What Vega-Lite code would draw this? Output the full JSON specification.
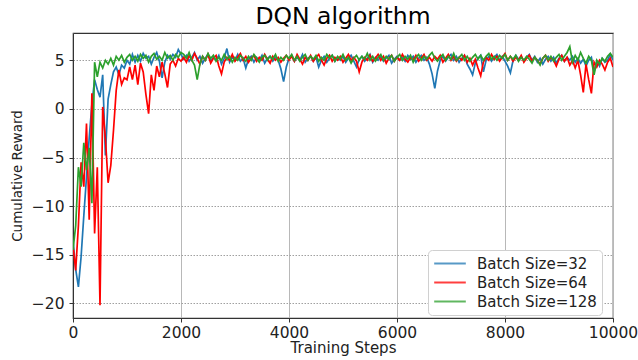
{
"$schema": "https://vega.github.io/schema/vega-lite/v6.json",
"width": 540, "height": 285,
"autosize": {"type": "none"},
"padding": {"left": 73, "top": 33, "right": 25, "bottom": 42},
"background": "white",
"title": {"text": "DQN algorithm", "font": "DejaVu Sans", "fontSize": 23.5, "fontWeight": "normal", "color": "#000", "offset": 5},
"config": {
  "view": {"stroke": "#333", "strokeWidth": 1.2},
  "font": "DejaVu Sans",
  "axis": {"labelFont": "DejaVu Sans", "titleFont": "DejaVu Sans", "labelFontSize": 15.5, "titleFontSize": 15, "titleFontWeight": "normal", "labelColor": "#222", "titleColor": "#222", "domainColor": "#333", "tickColor": "#333", "tickSize": 4}
},
"datasets": {
"b32": [
{"x":0,"y":-13.5},{"x":50,"y":-16.5},{"x":100,"y":-18.3},{"x":150,"y":-15.2},{"x":200,"y":-11},{"x":250,"y":-7},{"x":300,"y":-3},{"x":350,"y":0.5},{"x":400,"y":3},{"x":450,"y":2},{"x":500,"y":1.2},{"x":550,"y":3.5},{"x":600,"y":-4.8},{"x":650,"y":1},{"x":700,"y":2.5},{"x":750,"y":3.8},{"x":800,"y":4.3},{"x":850,"y":3.5},{"x":900,"y":4.5},{"x":950,"y":4.2},
{"x":1000,"y":5},{"x":1050,"y":4.6},{"x":1100,"y":5.6},{"x":1150,"y":4.8},{"x":1200,"y":5.5},{"x":1250,"y":4.9},{"x":1300,"y":5.7},{"x":1350,"y":5.2},{"x":1400,"y":5.4},{"x":1450,"y":4.6},{"x":1500,"y":5.3},{"x":1550,"y":5.8},{"x":1600,"y":4.9},{"x":1650,"y":3.2},{"x":1700,"y":4.8},{"x":1750,"y":5.5},{"x":1800,"y":5.1},{"x":1850,"y":5.6},{"x":1900,"y":5.3},{"x":1950,"y":6.1},
{"x":2000,"y":5.6},{"x":2050,"y":5.1},{"x":2100,"y":5.5},{"x":2150,"y":4.9},{"x":2200,"y":5.3},{"x":2250,"y":5.8},{"x":2300,"y":5.0},{"x":2350,"y":5.4},{"x":2400,"y":4.7},{"x":2450,"y":5.2},{"x":2500,"y":5.6},{"x":2550,"y":4.9},{"x":2600,"y":5.3},{"x":2650,"y":5.0},{"x":2700,"y":5.5},{"x":2750,"y":4.6},{"x":2800,"y":5.2},{"x":2850,"y":6.2},{"x":2900,"y":4.8},{"x":2950,"y":5.3},
{"x":3000,"y":5.0},{"x":3050,"y":5.6},{"x":3100,"y":4.9},{"x":3150,"y":5.2},{"x":3200,"y":4.2},{"x":3250,"y":5.1},{"x":3300,"y":5.4},{"x":3350,"y":4.8},{"x":3400,"y":5.3},{"x":3450,"y":5.0},{"x":3500,"y":5.5},{"x":3550,"y":4.7},{"x":3600,"y":5.2},{"x":3650,"y":5.4},{"x":3700,"y":4.9},{"x":3750,"y":5.3},{"x":3800,"y":5.0},{"x":3850,"y":4.1},{"x":3900,"y":2.8},{"x":3950,"y":4.3},
{"x":4000,"y":5.2},{"x":4050,"y":5.5},{"x":4100,"y":4.9},{"x":4150,"y":5.3},{"x":4200,"y":5.0},{"x":4250,"y":5.6},{"x":4300,"y":4.8},{"x":4350,"y":5.2},{"x":4400,"y":5.4},{"x":4450,"y":4.9},{"x":4500,"y":5.3},{"x":4550,"y":4.3},{"x":4600,"y":5.0},{"x":4650,"y":5.4},{"x":4700,"y":4.8},{"x":4750,"y":5.2},{"x":4800,"y":5.5},{"x":4850,"y":4.9},{"x":4900,"y":5.3},{"x":4950,"y":5.0},
{"x":5000,"y":5.4},{"x":5050,"y":4.8},{"x":5100,"y":5.2},{"x":5150,"y":5.5},{"x":5200,"y":4.9},{"x":5250,"y":4.3},{"x":5300,"y":5.1},{"x":5350,"y":5.4},{"x":5400,"y":4.9},{"x":5450,"y":5.2},{"x":5500,"y":5.6},{"x":5550,"y":4.8},{"x":5600,"y":5.3},{"x":5650,"y":5.0},{"x":5700,"y":5.4},{"x":5750,"y":4.9},{"x":5800,"y":5.2},{"x":5850,"y":5.5},{"x":5900,"y":4.7},{"x":5950,"y":5.1},
{"x":6000,"y":5.4},{"x":6050,"y":5.0},{"x":6100,"y":5.3},{"x":6150,"y":4.9},{"x":6200,"y":5.5},{"x":6250,"y":5.1},{"x":6300,"y":5.4},{"x":6350,"y":4.8},{"x":6400,"y":5.2},{"x":6450,"y":5.5},{"x":6500,"y":5.0},{"x":6550,"y":5.3},{"x":6600,"y":4.6},{"x":6650,"y":3.6},{"x":6700,"y":2.1},{"x":6750,"y":3.9},{"x":6800,"y":5.0},{"x":6850,"y":5.4},{"x":6900,"y":4.9},{"x":6950,"y":5.3},
{"x":7000,"y":5.6},{"x":7050,"y":5.0},{"x":7100,"y":5.4},{"x":7150,"y":4.8},{"x":7200,"y":5.2},{"x":7250,"y":5.5},{"x":7300,"y":4.6},{"x":7350,"y":4.1},{"x":7400,"y":3.5},{"x":7450,"y":4.7},{"x":7500,"y":5.2},{"x":7550,"y":5.5},{"x":7600,"y":3.8},{"x":7650,"y":5.0},{"x":7700,"y":5.4},{"x":7750,"y":4.9},{"x":7800,"y":5.3},{"x":7850,"y":5.6},{"x":7900,"y":5.0},{"x":7950,"y":5.4},
{"x":8000,"y":4.9},{"x":8050,"y":4.4},{"x":8100,"y":3.7},{"x":8150,"y":5.0},{"x":8200,"y":5.5},{"x":8250,"y":5.1},{"x":8300,"y":5.4},{"x":8350,"y":4.9},{"x":8400,"y":5.3},{"x":8450,"y":5.6},{"x":8500,"y":5.0},{"x":8550,"y":5.4},{"x":8600,"y":4.8},{"x":8650,"y":5.2},{"x":8700,"y":4.6},{"x":8750,"y":5.1},{"x":8800,"y":5.4},{"x":8850,"y":4.9},{"x":8900,"y":5.3},{"x":8950,"y":4.7},
{"x":9000,"y":5.2},{"x":9050,"y":5.5},{"x":9100,"y":4.9},{"x":9150,"y":5.3},{"x":9200,"y":5.0},{"x":9250,"y":5.4},{"x":9300,"y":4.8},{"x":9350,"y":5.2},{"x":9400,"y":4.7},{"x":9450,"y":5.1},{"x":9500,"y":4.4},{"x":9550,"y":5.0},{"x":9600,"y":5.3},{"x":9650,"y":3.8},{"x":9700,"y":4.9},{"x":9750,"y":4.4},{"x":9800,"y":5.2},{"x":9850,"y":4.8},{"x":9900,"y":5.0},{"x":9950,"y":5.6},{"x":10000,"y":5.0}
],
"b64": [
{"x":0,"y":-14},{"x":50,"y":-16.6},{"x":100,"y":-12},{"x":150,"y":-5.5},{"x":200,"y":-8},{"x":250,"y":-1.5},{"x":300,"y":-11.4},{"x":350,"y":1.6},{"x":400,"y":-12.8},{"x":450,"y":-6},{"x":500,"y":-20.2},{"x":550,"y":0.2},{"x":600,"y":-3},{"x":650,"y":-7.6},{"x":700,"y":-5.8},{"x":750,"y":-2.2},{"x":800,"y":1.9},{"x":850,"y":4},{"x":900,"y":2.5},{"x":950,"y":3.2},
{"x":1000,"y":3},{"x":1050,"y":4.3},{"x":1100,"y":3.0},{"x":1150,"y":4.5},{"x":1200,"y":2.5},{"x":1250,"y":4.7},{"x":1300,"y":3.8},{"x":1350,"y":1.5},{"x":1400,"y":-0.5},{"x":1450,"y":3.5},{"x":1500,"y":1.9},{"x":1550,"y":4.4},{"x":1600,"y":3.3},{"x":1650,"y":4.8},{"x":1700,"y":3.6},{"x":1750,"y":2.2},{"x":1800,"y":4.6},{"x":1850,"y":5.0},{"x":1900,"y":4.4},{"x":1950,"y":5.2},
{"x":2000,"y":4.9},{"x":2050,"y":5.3},{"x":2100,"y":4.8},{"x":2150,"y":5.5},{"x":2200,"y":5.0},{"x":2250,"y":5.7},{"x":2300,"y":5.2},{"x":2350,"y":4.6},{"x":2400,"y":5.4},{"x":2450,"y":5.0},{"x":2500,"y":5.6},{"x":2550,"y":4.7},{"x":2600,"y":5.2},{"x":2650,"y":5.5},{"x":2700,"y":4.4},{"x":2750,"y":3.6},{"x":2800,"y":4.8},{"x":2850,"y":5.3},{"x":2900,"y":5.0},{"x":2950,"y":5.6},
{"x":3000,"y":4.9},{"x":3050,"y":5.3},{"x":3100,"y":5.7},{"x":3150,"y":5.0},{"x":3200,"y":5.4},{"x":3250,"y":4.8},{"x":3300,"y":5.2},{"x":3350,"y":5.5},{"x":3400,"y":4.9},{"x":3450,"y":5.3},{"x":3500,"y":5.0},{"x":3550,"y":5.6},{"x":3600,"y":5.1},{"x":3650,"y":4.7},{"x":3700,"y":5.4},{"x":3750,"y":5.0},{"x":3800,"y":5.3},{"x":3850,"y":4.8},{"x":3900,"y":5.2},{"x":3950,"y":5.5},
{"x":4000,"y":5.0},{"x":4050,"y":5.4},{"x":4100,"y":4.9},{"x":4150,"y":5.6},{"x":4200,"y":5.1},{"x":4250,"y":4.6},{"x":4300,"y":5.3},{"x":4350,"y":5.0},{"x":4400,"y":5.5},{"x":4450,"y":4.9},{"x":4500,"y":5.3},{"x":4550,"y":5.6},{"x":4600,"y":5.0},{"x":4650,"y":4.5},{"x":4700,"y":5.2},{"x":4750,"y":5.5},{"x":4800,"y":4.9},{"x":4850,"y":5.3},{"x":4900,"y":5.0},{"x":4950,"y":5.4},
{"x":5000,"y":4.8},{"x":5050,"y":5.2},{"x":5100,"y":5.6},{"x":5150,"y":5.0},{"x":5200,"y":5.3},{"x":5250,"y":4.9},{"x":5300,"y":3.8},{"x":5350,"y":4.8},{"x":5400,"y":5.3},{"x":5450,"y":5.0},{"x":5500,"y":5.5},{"x":5550,"y":4.9},{"x":5600,"y":5.2},{"x":5650,"y":5.6},{"x":5700,"y":5.0},{"x":5750,"y":5.4},{"x":5800,"y":4.7},{"x":5850,"y":5.2},{"x":5900,"y":5.5},{"x":5950,"y":4.9},
{"x":6000,"y":5.3},{"x":6050,"y":5.0},{"x":6100,"y":5.6},{"x":6150,"y":5.1},{"x":6200,"y":4.8},{"x":6250,"y":5.3},{"x":6300,"y":5.0},{"x":6350,"y":5.5},{"x":6400,"y":4.9},{"x":6450,"y":5.2},{"x":6500,"y":5.6},{"x":6550,"y":5.0},{"x":6600,"y":5.3},{"x":6650,"y":4.9},{"x":6700,"y":5.4},{"x":6750,"y":5.1},{"x":6800,"y":5.5},{"x":6850,"y":4.8},{"x":6900,"y":5.2},{"x":6950,"y":5.6},
{"x":7000,"y":5.0},{"x":7050,"y":5.4},{"x":7100,"y":4.9},{"x":7150,"y":5.3},{"x":7200,"y":5.0},{"x":7250,"y":5.5},{"x":7300,"y":4.8},{"x":7350,"y":5.2},{"x":7400,"y":4.5},{"x":7450,"y":5.1},{"x":7500,"y":4.2},{"x":7550,"y":3.4},{"x":7600,"y":4.8},{"x":7650,"y":5.3},{"x":7700,"y":5.0},{"x":7750,"y":5.6},{"x":7800,"y":5.1},{"x":7850,"y":5.4},{"x":7900,"y":4.9},{"x":7950,"y":5.3},
{"x":8000,"y":5.7},{"x":8050,"y":5.0},{"x":8100,"y":5.4},{"x":8150,"y":4.9},{"x":8200,"y":5.3},{"x":8250,"y":5.0},{"x":8300,"y":5.5},{"x":8350,"y":4.8},{"x":8400,"y":5.2},{"x":8450,"y":5.5},{"x":8500,"y":4.9},{"x":8550,"y":5.3},{"x":8600,"y":5.0},{"x":8650,"y":4.6},{"x":8700,"y":5.2},{"x":8750,"y":5.5},{"x":8800,"y":4.9},{"x":8850,"y":5.3},{"x":8900,"y":5.0},{"x":8950,"y":4.4},
{"x":9000,"y":5.1},{"x":9050,"y":5.5},{"x":9100,"y":4.9},{"x":9150,"y":5.3},{"x":9200,"y":4.5},{"x":9250,"y":5.0},{"x":9300,"y":4.2},{"x":9350,"y":5.0},{"x":9400,"y":3.5},{"x":9450,"y":1.7},{"x":9500,"y":4.6},{"x":9550,"y":3.0},{"x":9600,"y":1.6},{"x":9650,"y":4.8},{"x":9700,"y":4.3},{"x":9750,"y":5.0},{"x":9800,"y":4.6},{"x":9850,"y":4.0},{"x":9900,"y":4.8},{"x":9950,"y":5.2},{"x":10000,"y":4.3}
],
"b128": [
{"x":0,"y":-14.5},{"x":50,"y":-12},{"x":100,"y":-6},{"x":150,"y":-8},{"x":200,"y":-3.5},{"x":250,"y":-6.3},{"x":300,"y":-4},{"x":350,"y":-9.7},{"x":400,"y":4.8},{"x":450,"y":3.3},{"x":500,"y":4.8},{"x":550,"y":4.2},{"x":600,"y":5},{"x":650,"y":4.6},{"x":700,"y":5.2},{"x":750,"y":4.5},{"x":800,"y":5.4},{"x":850,"y":5.0},{"x":900,"y":5.5},{"x":950,"y":4.8},
{"x":1000,"y":5.3},{"x":1050,"y":5.6},{"x":1100,"y":5.0},{"x":1150,"y":5.4},{"x":1200,"y":4.9},{"x":1250,"y":5.6},{"x":1300,"y":5.2},{"x":1350,"y":5.5},{"x":1400,"y":4.8},{"x":1450,"y":5.4},{"x":1500,"y":5.7},{"x":1550,"y":5.1},{"x":1600,"y":5.4},{"x":1650,"y":5.0},{"x":1700,"y":5.8},{"x":1750,"y":5.2},{"x":1800,"y":5.5},{"x":1850,"y":5.0},{"x":1900,"y":5.6},{"x":1950,"y":5.3},
{"x":2000,"y":5.8},{"x":2050,"y":5.6},{"x":2100,"y":5.2},{"x":2150,"y":5.8},{"x":2200,"y":5.0},{"x":2250,"y":4.5},{"x":2300,"y":3.0},{"x":2350,"y":4.6},{"x":2400,"y":5.4},{"x":2450,"y":5.0},{"x":2500,"y":5.7},{"x":2550,"y":5.2},{"x":2600,"y":5.5},{"x":2650,"y":4.9},{"x":2700,"y":5.3},{"x":2750,"y":5.0},{"x":2800,"y":5.6},{"x":2850,"y":5.1},{"x":2900,"y":5.4},{"x":2950,"y":4.8},
{"x":3000,"y":5.3},{"x":3050,"y":5.0},{"x":3100,"y":5.5},{"x":3150,"y":5.2},{"x":3200,"y":4.9},{"x":3250,"y":5.4},{"x":3300,"y":5.0},{"x":3350,"y":5.6},{"x":3400,"y":5.2},{"x":3450,"y":4.8},{"x":3500,"y":5.3},{"x":3550,"y":5.5},{"x":3600,"y":5.0},{"x":3650,"y":5.4},{"x":3700,"y":5.1},{"x":3750,"y":5.6},{"x":3800,"y":4.9},{"x":3850,"y":5.3},{"x":3900,"y":5.0},{"x":3950,"y":5.5},
{"x":4000,"y":5.2},{"x":4050,"y":5.6},{"x":4100,"y":5.0},{"x":4150,"y":5.4},{"x":4200,"y":4.9},{"x":4250,"y":5.3},{"x":4300,"y":5.6},{"x":4350,"y":5.0},{"x":4400,"y":5.4},{"x":4450,"y":5.1},{"x":4500,"y":5.5},{"x":4550,"y":4.9},{"x":4600,"y":5.3},{"x":4650,"y":5.0},{"x":4700,"y":5.6},{"x":4750,"y":5.2},{"x":4800,"y":5.5},{"x":4850,"y":4.9},{"x":4900,"y":5.4},{"x":4950,"y":5.1},
{"x":5000,"y":5.6},{"x":5050,"y":5.0},{"x":5100,"y":5.3},{"x":5150,"y":4.7},{"x":5200,"y":5.2},{"x":5250,"y":5.5},{"x":5300,"y":5.0},{"x":5350,"y":5.4},{"x":5400,"y":5.1},{"x":5450,"y":5.7},{"x":5500,"y":5.0},{"x":5550,"y":5.4},{"x":5600,"y":4.9},{"x":5650,"y":5.3},{"x":5700,"y":5.6},{"x":5750,"y":5.0},{"x":5800,"y":5.4},{"x":5850,"y":5.1},{"x":5900,"y":5.5},{"x":5950,"y":4.9},
{"x":6000,"y":5.3},{"x":6050,"y":5.6},{"x":6100,"y":5.0},{"x":6150,"y":5.4},{"x":6200,"y":5.1},{"x":6250,"y":5.5},{"x":6300,"y":4.8},{"x":6350,"y":5.3},{"x":6400,"y":5.6},{"x":6450,"y":5.0},{"x":6500,"y":5.4},{"x":6550,"y":5.1},{"x":6600,"y":5.5},{"x":6650,"y":5.8},{"x":6700,"y":5.2},{"x":6750,"y":4.9},{"x":6800,"y":5.3},{"x":6850,"y":5.6},{"x":6900,"y":5.0},{"x":6950,"y":5.4},
{"x":7000,"y":5.1},{"x":7050,"y":5.7},{"x":7100,"y":5.0},{"x":7150,"y":5.3},{"x":7200,"y":5.6},{"x":7250,"y":5.0},{"x":7300,"y":5.4},{"x":7350,"y":4.9},{"x":7400,"y":5.3},{"x":7450,"y":5.6},{"x":7500,"y":5.1},{"x":7550,"y":5.5},{"x":7600,"y":5.0},{"x":7650,"y":5.4},{"x":7700,"y":5.7},{"x":7750,"y":5.1},{"x":7800,"y":5.4},{"x":7850,"y":5.0},{"x":7900,"y":5.5},{"x":7950,"y":5.2},
{"x":8000,"y":5.6},{"x":8050,"y":5.0},{"x":8100,"y":5.4},{"x":8150,"y":5.1},{"x":8200,"y":5.5},{"x":8250,"y":4.9},{"x":8300,"y":5.3},{"x":8350,"y":5.0},{"x":8400,"y":5.4},{"x":8450,"y":5.1},{"x":8500,"y":4.7},{"x":8550,"y":5.3},{"x":8600,"y":5.0},{"x":8650,"y":4.5},{"x":8700,"y":5.2},{"x":8750,"y":5.5},{"x":8800,"y":5.0},{"x":8850,"y":5.4},{"x":8900,"y":4.9},{"x":8950,"y":5.3},
{"x":9000,"y":5.6},{"x":9050,"y":5.0},{"x":9100,"y":5.4},{"x":9150,"y":5.8},{"x":9200,"y":6.4},{"x":9250,"y":4.8},{"x":9300,"y":5.5},{"x":9350,"y":5.0},{"x":9400,"y":5.8},{"x":9450,"y":5.2},{"x":9500,"y":4.7},{"x":9550,"y":5.4},{"x":9600,"y":5.0},{"x":9650,"y":3.5},{"x":9700,"y":5.0},{"x":9750,"y":4.6},{"x":9800,"y":5.2},{"x":9850,"y":4.9},{"x":9900,"y":5.4},{"x":9950,"y":5.7},{"x":10000,"y":5.3}
]
},
"encoding": {
  "x": {"field": "x", "type": "quantitative", "scale": {"domain": [0, 10000], "nice": false},
        "axis": {"title": "Training Steps", "values": [0, 2000, 4000, 6000, 8000, 10000], "format": "d", "grid": true, "gridColor": "#b8b8b8", "gridWidth": 1, "labelPadding": 3, "titlePadding": 0, "labelFlush": false}},
  "y": {"field": "y", "type": "quantitative", "scale": {"domain": [-21.5, 7.8], "nice": false, "zero": false},
        "axis": {"title": "Cumulative Reward", "values": [-20, -15, -10, -5, 0, 5], "grid": true, "gridColor": "#a0a0a0", "gridDash": [1.5, 1.5], "gridWidth": 1, "labelPadding": 5, "titlePadding": 7, "titleFontSize": 13.5}}
},
"layer": [
  {"data": {"name": "b32"}, "mark": {"type": "line", "strokeWidth": 1.7, "clip": true},
   "encoding": {"color": {"datum": "Batch Size=32"}}},
  {"data": {"name": "b64"}, "mark": {"type": "line", "strokeWidth": 1.7, "clip": true},
   "encoding": {"color": {"datum": "Batch Size=64"}}},
  {"data": {"name": "b128"}, "mark": {"type": "line", "strokeWidth": 1.7, "clip": true},
   "encoding": {"color": {"datum": "Batch Size=128",
     "scale": {"domain": ["Batch Size=32", "Batch Size=64", "Batch Size=128"], "range": ["#1f77b4", "#ff0000", "#2ca02c"]},
     "legend": {"title": null, "orient": "none", "legendX": 355, "legendY": 217, "symbolType": "stroke", "symbolSize": 1000, "clipHeight": 17, "symbolStrokeWidth": 2, "symbolOpacity": 0.75, "labelFontSize": 15, "labelFont": "DejaVu Sans", "labelColor": "#222", "fillColor": "white", "strokeColor": "#d0d0d0", "cornerRadius": 4, "padding": 5, "rowPadding": 2, "labelOffset": 10}}}}
]
}
